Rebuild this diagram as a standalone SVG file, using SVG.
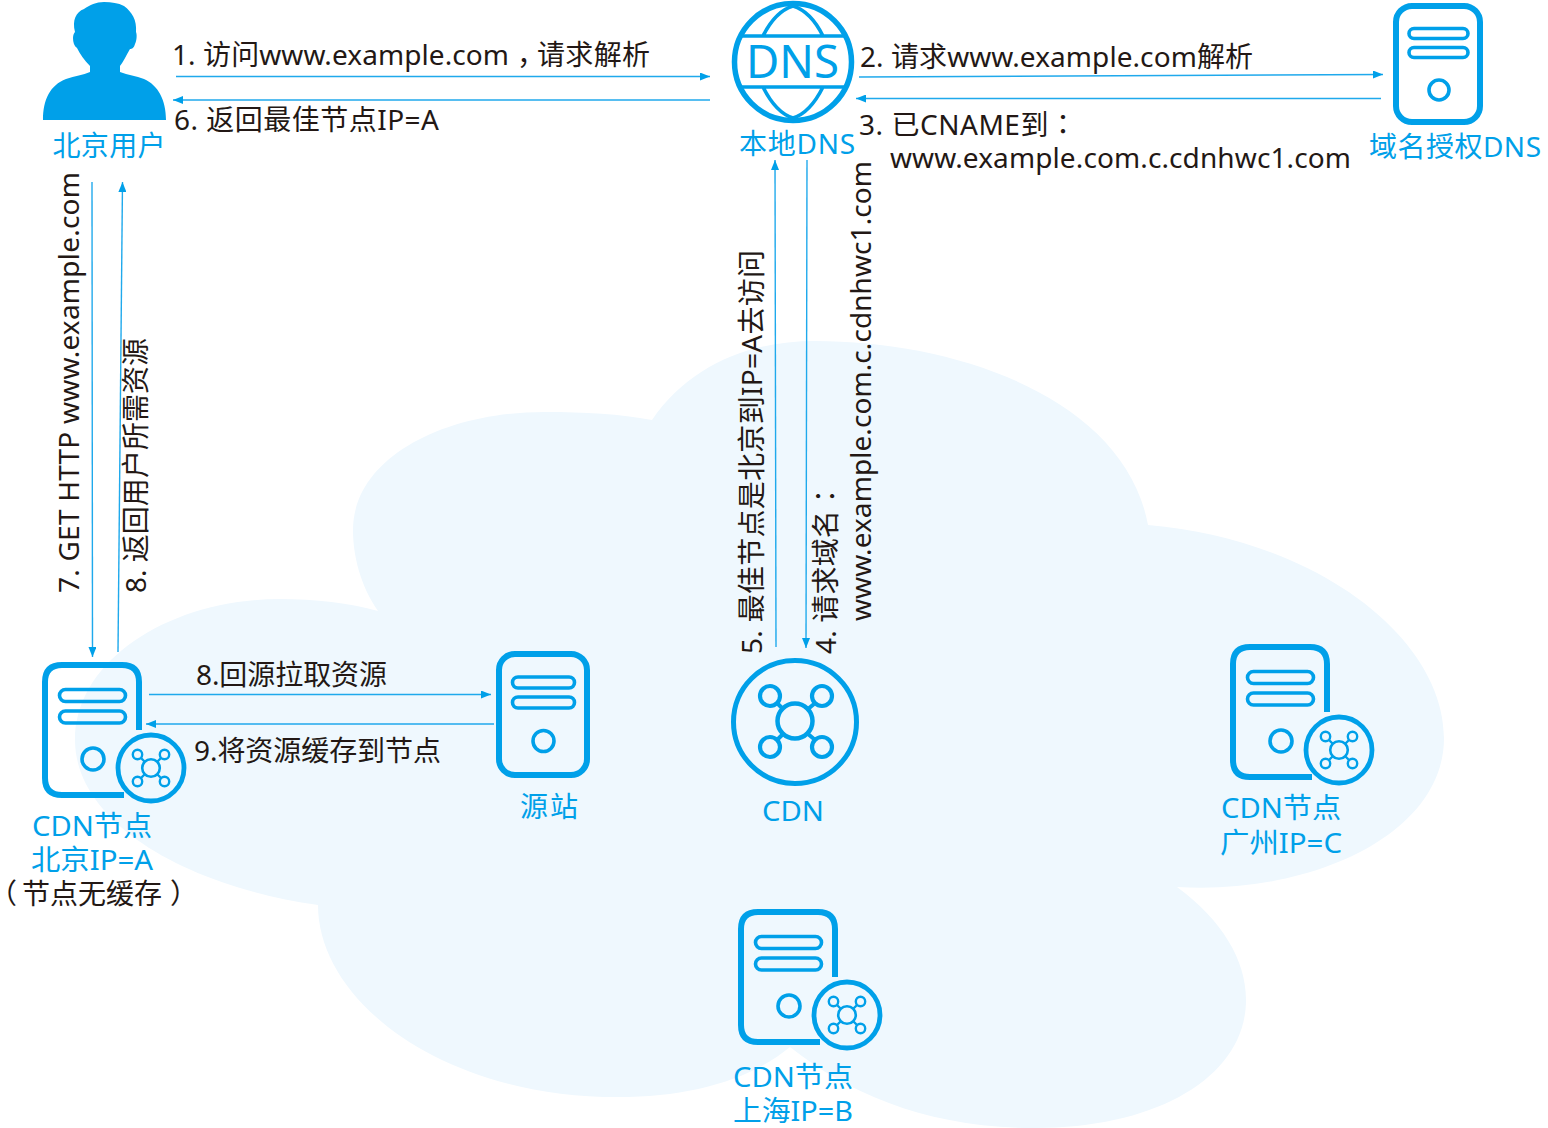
<svg xmlns="http://www.w3.org/2000/svg" width="1548" height="1128" viewBox="0 0 1548 1128">
<style>
text{font-family:"Noto Sans","Noto Sans CJK SC",sans-serif;font-size:28px}
.k{fill:#231815}
.b{fill:#00a0e9}
.m{text-anchor:middle}
.t{font-family:"Noto Sans CJK TC",sans-serif}
.p{font-family:"Noto Sans CJK SC",sans-serif;font-feature-settings:"halt"}
.s{fill:none;stroke:#00a0e9}
.a{fill:none;stroke:#1fa9ec;stroke-width:1.4}
</style>
<defs>
<marker id="h" markerUnits="userSpaceOnUse" markerWidth="11" markerHeight="8" refX="10" refY="4" orient="auto"><path d="M0 0L10 4L0 8Z" fill="#00a0e9"/></marker>
<g id="bars"><rect x="0" y="0" width="66" height="12" rx="6" class="s" stroke-width="3.6"/><rect x="0" y="21.500" width="66" height="12" rx="6" class="s" stroke-width="3.6"/></g>
<g id="cdnserver">
<path d="M97 68V20Q97 3 80 3H20Q3 3 3 20V116Q3 133 20 133H82" class="s" stroke-width="6"/>
<use href="#bars" x="17.500" y="27.500"/>
<circle cx="51" cy="97" r="11" class="s" stroke-width="3.600"/>
<circle cx="109" cy="106" r="33" class="s" stroke-width="4.800"/>
<circle cx="109" cy="106" r="8.800" class="s" stroke-width="2.600"/>
<circle cx="95.500" cy="92.500" r="4.700" class="s" stroke-width="2.400"/>
<circle cx="122.500" cy="92.500" r="4.700" class="s" stroke-width="2.400"/>
<circle cx="95.500" cy="119.500" r="4.700" class="s" stroke-width="2.400"/>
<circle cx="122.500" cy="119.500" r="4.700" class="s" stroke-width="2.400"/>
<path d="M99 96L103 100M119 96L115 100M99 116L103 112M119 116L115 112" class="s" stroke-width="2.400"/>
</g>
</defs>

<path id="cloud" fill="#eff8fe" d="M652 420C690 365 750 341 815 341C960 341 1125 400 1148 525C1320 540 1444 640 1444 738C1444 835 1310 895 1177 887C1222 920 1246 960 1246 1000C1246 1075 1160 1128 1035 1128C930 1128 850 1095 790 1047C750 1080 690 1097 618 1097C440 1097 318 1000 318 905C180 885 75 820 75 740C75 660 170 599 280 599C315 599 350 603 378 611C360 585 353 555 353 530C353 460 440 412 545 412C585 412 620 414 652 420Z"/>

<g id="connectors">
<path class="a" d="M176 76.500L710 76.500" marker-end="url(#h)"/>
<path class="a" d="M710 100L173 100" marker-end="url(#h)"/>
<path class="a" d="M859 77L1383 74.500" marker-end="url(#h)"/>
<path class="a" d="M1381 98.500L856 98.500" marker-end="url(#h)"/>
<path class="a" d="M92 182L92.500 657" marker-end="url(#h)"/>
<path class="a" d="M118 652L122.500 182" marker-end="url(#h)"/>
<path class="a" d="M776 647L775 160" marker-end="url(#h)"/>
<path class="a" d="M807 160L806 648" marker-end="url(#h)"/>
<path class="a" d="M149 694.500L491 694.500" marker-end="url(#h)"/>
<path class="a" d="M494 724L146 724" marker-end="url(#h)"/>
</g>

<g id="user">
<path class="b" d="M43 120C43 100 50 85 66 79C75 76 83 75 90 72V66C84 60 80 54 77 48C74 46 73 42 73 38C73 35 74 33 75 32C72 20 76 12 84 9C90 5 96 2 104 2C112 2 118 3 124 6C132 12 137 20 136 32C137 34 137 40 135 44C134 48 132 49 130 49C126 56 123 62 120 66V72C128 75 136 76 144 79C158 85 166 100 166 120Z"/>
<text class="b m" x="109" y="156" textLength="113">北京用户</text>
</g>

<g id="localdns">
<circle cx="793" cy="62" r="58.500" class="s" stroke-width="5.500"/>
<path class="s" stroke-width="3.600" d="M742 36H844M742 87H844M763 36C770 22 780 10 793 6C806 10 816 22 823 36M763 87C770 101 780 114 793 118C806 114 816 101 823 87"/>
<text x="746" y="78" class="b" style="font-size:46px" textLength="93" lengthAdjust="spacingAndGlyphs">DNS</text>
<text class="b m" x="797" y="154" textLength="116">本地DNS</text>
</g>

<g id="authdns">
<rect x="1396" y="6" width="84" height="116" rx="16" class="s" stroke-width="6"/>
<rect x="1409" y="28.500" width="59" height="10" rx="5" class="s" stroke-width="3.600"/>
<rect x="1409" y="47.500" width="59" height="10" rx="5" class="s" stroke-width="3.600"/>
<circle cx="1439" cy="90" r="10" class="s" stroke-width="3.600"/>
<text class="b m" x="1455" y="157" textLength="172">域名授权DNS</text>
</g>

<g id="cdn-beijing">
<use href="#cdnserver" x="42" y="662"/>
<text class="b m" x="92" y="836" textLength="120" lengthAdjust="spacingAndGlyphs">CDN节点</text>
<text class="b m" x="92" y="870" textLength="122" lengthAdjust="spacingAndGlyphs">北京IP=A</text>
<text class="k" y="904"><tspan class="p" x="3">（</tspan><tspan x="22" textLength="140">节点无缓存</tspan><tspan class="p" x="170">）</tspan></text>
</g>

<g id="origin">
<rect x="499" y="654" width="88" height="121" rx="16" class="s" stroke-width="6"/>
<rect x="512.500" y="677" width="62" height="11" rx="5.500" class="s" stroke-width="3.600"/>
<rect x="512.500" y="697" width="62" height="11" rx="5.500" class="s" stroke-width="3.600"/>
<circle cx="543.500" cy="741" r="10.500" class="s" stroke-width="3.600"/>
<text class="b m" x="549" y="817" textLength="58">源站</text>
</g>

<g id="cdn">
<circle cx="795" cy="722" r="61.500" class="s" stroke-width="5"/>
<circle cx="795" cy="721" r="17.500" class="s" stroke-width="4.500"/>
<circle cx="770" cy="696" r="10" class="s" stroke-width="4.200"/>
<circle cx="822" cy="696" r="10" class="s" stroke-width="4.200"/>
<circle cx="770" cy="747" r="10" class="s" stroke-width="4.200"/>
<circle cx="822" cy="747" r="10" class="s" stroke-width="4.200"/>
<path class="s" stroke-width="4" d="M778 704L783 709M814 704L808 709M778 739L783 734M814 739L808 734"/>
<text class="b m" x="793" y="821" textLength="62" lengthAdjust="spacingAndGlyphs">CDN</text>
</g>

<g id="cdn-guangzhou">
<use href="#cdnserver" x="1230" y="644"/>
<text class="b m" x="1281" y="818" textLength="120" lengthAdjust="spacingAndGlyphs">CDN节点</text>
<text class="b m" x="1281" y="853" textLength="122" lengthAdjust="spacingAndGlyphs">广州IP=C</text>
</g>

<g id="cdn-shanghai">
<use href="#cdnserver" x="738" y="909"/>
<text class="b m" x="793" y="1087" textLength="120" lengthAdjust="spacingAndGlyphs">CDN节点</text>
<text class="b m" x="793" y="1121" textLength="120" lengthAdjust="spacingAndGlyphs">上海IP=B</text>
</g>

<g id="labels" class="k">
<text class="k" y="65"><tspan x="172" textLength="337">1. 访问www.example.com</tspan><tspan x="517">，</tspan><tspan x="537" textLength="113">请求解析</tspan></text>
<text class="k" x="174" y="130" textLength="265">6. 返回最佳节点IP=A</text>
<text class="k" x="860" y="67" textLength="393">2. 请求www.example.com解析</text>
<text class="k" x="859" y="135" textLength="218">3. 已CNAME到<tspan class="t">：</tspan></text>
<text class="k" x="890" y="168" textLength="461">www.example.com.c.cdnhwc1.com</text>
<text class="k" transform="translate(79 593) rotate(-90)" textLength="421">7. GET HTTP www.example.com</text>
<text class="k" transform="translate(146 593) rotate(-90)" textLength="255">8. 返回用户所需资源</text>
<text class="k" transform="translate(762 654) rotate(-90)" textLength="404">5. 最佳节点是北京到IP=A去访问</text>
<text class="k" transform="translate(836 654) rotate(-90)" textLength="172">4. 请求域名<tspan class="t">：</tspan></text>
<text class="k" transform="translate(871 621) rotate(-90)" textLength="460">www.example.com.c.cdnhwc1.com</text>
<text class="k" x="196" y="685" textLength="191">8.回源拉取资源</text>
<text class="k" x="194" y="761" textLength="247">9.将资源缓存到节点</text>
</g>
</svg>
